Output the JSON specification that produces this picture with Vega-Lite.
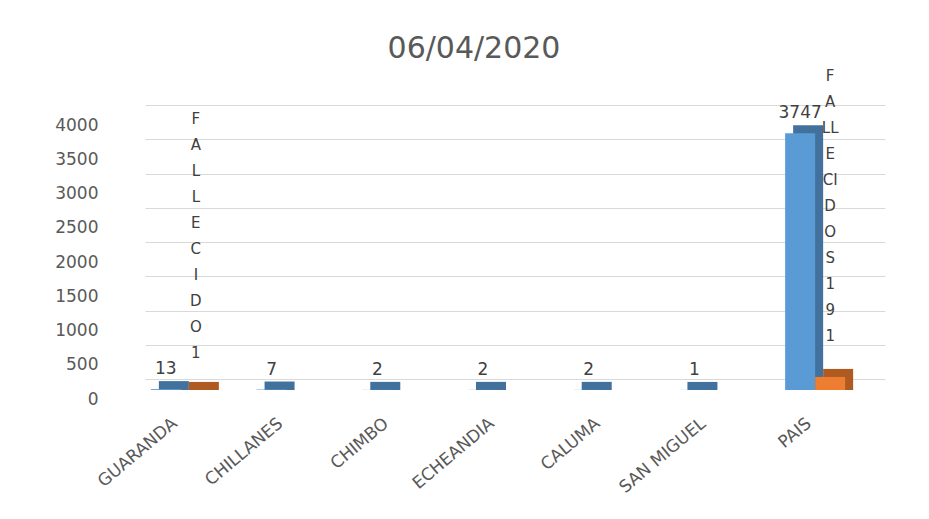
{
  "$schema": "https://vega.github.io/schema/vega-lite/v6.json",
  "width": 740,
  "height": 274,
  "autosize": {"type": "none"},
  "padding": {"left": 145, "top": 105, "right": 44, "bottom": 140},
  "background": "white",
  "title": {
    "text": "06/04/2020",
    "font": "DejaVu Sans",
    "fontSize": 30,
    "fontWeight": "normal",
    "color": "#595959",
    "anchor": "middle",
    "dx": -41,
    "dy": 33,
    "offset": 14,
    "baseline": "alphabetic"
  },
  "config": {"view": {"stroke": null}},
  "data": {
    "values": [
      {"canton": "GUARANDA", "serie": "Casos", "valor": 13},
      {"canton": "CHILLANES", "serie": "Casos", "valor": 7},
      {"canton": "CHIMBO", "serie": "Casos", "valor": 2},
      {"canton": "ECHEANDIA", "serie": "Casos", "valor": 2},
      {"canton": "CALUMA", "serie": "Casos", "valor": 2},
      {"canton": "SAN MIGUEL", "serie": "Casos", "valor": 1},
      {"canton": "PAIS", "serie": "Casos", "valor": 3747},
      {"canton": "GUARANDA", "serie": "Fallecidos", "valor": 1, "etiqueta": "F\nA\nL\nL\nE\nC\nI\nD\nO\n1"},
      {"canton": "PAIS", "serie": "Fallecidos", "valor": 191, "etiqueta": "F\nA\nLL\nE\nCI\nD\nO\nS\n1\n9\n1"}
    ]
  },
  "encoding": {
    "x": {
      "field": "canton",
      "type": "nominal",
      "sort": ["GUARANDA", "CHILLANES", "CHIMBO", "ECHEANDIA", "CALUMA", "SAN MIGUEL", "PAIS"],
      "scale": {"paddingInner": 0, "paddingOuter": 0},
      "axis": {
        "title": null,
        "domain": false,
        "ticks": false,
        "labelAngle": -40,
        "labelAlign": "right",
        "labelBaseline": "middle",
        "labelPadding": 42,
        "labelOffset": -23,
        "labelFont": "DejaVu Sans",
        "labelFontSize": 17,
        "labelColor": "#595959"
      }
    },
    "y": {
      "field": "valor",
      "type": "quantitative",
      "scale": {"domain": [0, 4000], "nice": false},
      "axis": {
        "title": null,
        "format": "d",
        "values": [0, 500, 1000, 1500, 2000, 2500, 3000, 3500, 4000],
        "grid": true,
        "gridColor": "#d9d9d9",
        "gridWidth": 1,
        "domain": false,
        "ticks": false,
        "labelPadding": 47,
        "labelOffset": 20,
        "labelFont": "DejaVu Sans",
        "labelFontSize": 17,
        "labelColor": "#595959"
      }
    }
  },
  "layer": [
    {
      "transform": [{"filter": "datum.serie === 'Casos'"}],
      "mark": {"type": "bar", "width": 30, "color": "#41719c", "xOffset": -24, "yOffset": 3, "y2Offset": 11},
      "encoding": {"y2": {"datum": 0}}
    },
    {
      "transform": [{"filter": "datum.serie === 'Fallecidos'"}],
      "mark": {"type": "bar", "width": 30, "color": "#ae5a21", "xOffset": 6, "yOffset": 3, "y2Offset": 11},
      "encoding": {"y2": {"datum": 0}}
    },
    {
      "transform": [{"filter": "datum.serie === 'Casos'"}],
      "mark": {"type": "bar", "width": 30, "color": "#5b9bd5", "xOffset": -32, "yOffset": 11, "y2Offset": 11},
      "encoding": {"y2": {"datum": 0}}
    },
    {
      "transform": [{"filter": "datum.serie === 'Fallecidos'"}],
      "mark": {"type": "bar", "width": 30, "color": "#ed7d31", "xOffset": -2, "yOffset": 11, "y2Offset": 11},
      "encoding": {"y2": {"datum": 0}}
    },
    {
      "transform": [{"filter": "datum.serie === 'Casos'"}],
      "mark": {"type": "text", "font": "DejaVu Sans", "fontSize": 17, "color": "#404040", "baseline": "alphabetic", "align": "center", "xOffset": -32, "yOffset": -4},
      "encoding": {"text": {"field": "valor", "type": "quantitative"}}
    },
    {
      "transform": [{"filter": "datum.serie === 'Fallecidos' && datum.canton === 'GUARANDA'"}],
      "mark": {"type": "text", "font": "DejaVu Sans", "fontSize": 15, "color": "#404040", "baseline": "alphabetic", "align": "center", "lineBreak": "\n", "lineHeight": 26, "xOffset": -2, "yOffset": -255},
      "encoding": {"text": {"field": "etiqueta", "type": "nominal"}}
    },
    {
      "transform": [{"filter": "datum.serie === 'Fallecidos' && datum.canton === 'PAIS'"}],
      "mark": {"type": "text", "font": "DejaVu Sans", "fontSize": 15, "color": "#404040", "baseline": "alphabetic", "align": "center", "lineBreak": "\n", "lineHeight": 26, "xOffset": -2, "yOffset": -285},
      "encoding": {"text": {"field": "etiqueta", "type": "nominal"}}
    }
  ]
}
